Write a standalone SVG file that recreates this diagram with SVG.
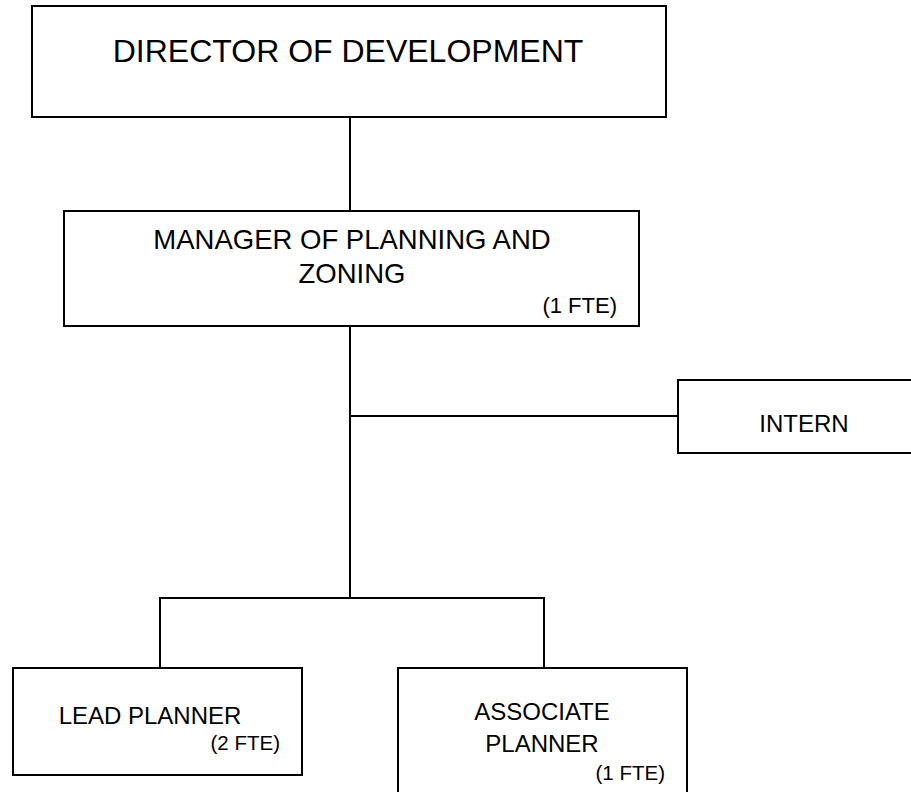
<svg xmlns="http://www.w3.org/2000/svg" width="911" height="792" viewBox="0 0 911 792">
<style>
.box{fill:#fff;stroke:#000;stroke-width:2}
.ln{stroke:#000;stroke-width:2;fill:none}
text{font-family:"Liberation Sans",Arial,sans-serif;fill:#000}
.m{text-anchor:middle}
.e{text-anchor:end}
</style>
<rect width="911" height="792" fill="#fff"/>
<g id="connectors">
<path class="ln" d="M350 117V211"/>
<path class="ln" d="M350 326V598"/>
<path class="ln" d="M350 416H678"/>
<path class="ln" d="M160 668V598H544V668"/>
</g>
<g id="director">
<rect class="box" x="32" y="6" width="634" height="111"/>
<text class="m" x="348" y="62" font-size="32">DIRECTOR OF DEVELOPMENT</text>
</g>
<g id="manager">
<rect class="box" x="64" y="211" width="575" height="115"/>
<text class="m" x="352" y="249" font-size="27.5">MANAGER OF PLANNING AND</text>
<text class="m" x="352" y="283" font-size="27.5">ZONING</text>
<text class="e" x="617" y="313" font-size="22">(1 FTE)</text>
</g>
<g id="intern">
<rect class="box" x="678" y="380" width="240" height="73"/>
<text class="m" x="804" y="432" font-size="24">INTERN</text>
</g>
<g id="lead">
<rect class="box" x="13" y="668" width="289" height="107"/>
<text class="m" x="150" y="724" font-size="24">LEAD PLANNER</text>
<text class="e" x="280" y="750" font-size="20.5">(2 FTE)</text>
</g>
<g id="associate">
<rect class="box" x="398" y="668" width="289" height="130"/>
<text class="m" x="542" y="720" font-size="24">ASSOCIATE</text>
<text class="m" x="542" y="752" font-size="24">PLANNER</text>
<text class="e" x="665" y="780" font-size="20.5">(1 FTE)</text>
</g>
</svg>
